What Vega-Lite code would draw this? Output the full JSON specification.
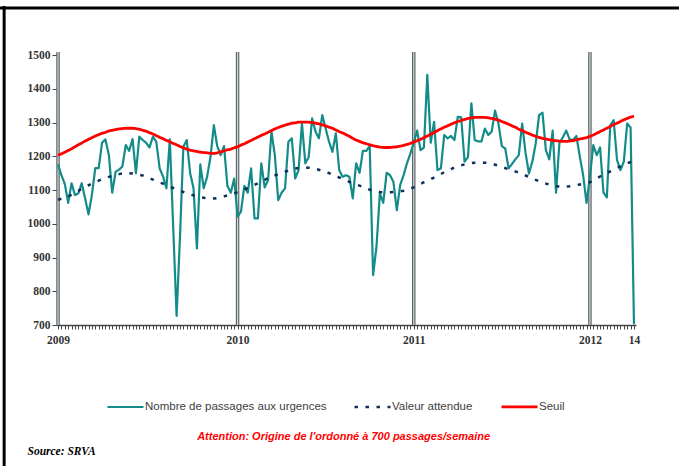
{
  "$schema": "https://vega.github.io/schema/vega-lite/v6.json",
  "width": 579,
  "height": 270,
  "autosize": "none",
  "padding": {"left": 57, "top": 55, "right": 43, "bottom": 141},
  "background": "white",
  "config": {"view": {"stroke": null}},
  "resolve": {"axis": {"x": "independent", "y": "independent"}},
  "data": {
    "values": [
      {"i":0,"n":1176,"e":1071,"s":1203},{"i":1,"n":1144,"e":1074,"s":1207},{"i":2,"n":1118,"e":1077,"s":1212},{"i":3,"n":1062,"e":1081,"s":1217},{"i":4,"n":1120,"e":1086,"s":1222},
      {"i":5,"n":1085,"e":1092,"s":1228},{"i":6,"n":1090,"e":1097,"s":1234},{"i":7,"n":1120,"e":1104,"s":1239},{"i":8,"n":1075,"e":1109,"s":1245},{"i":9,"n":1028,"e":1114,"s":1250},
      {"i":10,"n":1085,"e":1119,"s":1255},{"i":11,"n":1165,"e":1123,"s":1260},{"i":12,"n":1165,"e":1128,"s":1264},{"i":13,"n":1240,"e":1132,"s":1268},{"i":14,"n":1250,"e":1136,"s":1271},
      {"i":15,"n":1204,"e":1139,"s":1275},{"i":16,"n":1092,"e":1142,"s":1277},{"i":17,"n":1154,"e":1145,"s":1279},{"i":18,"n":1160,"e":1147,"s":1281},{"i":19,"n":1170,"e":1149,"s":1282},
      {"i":20,"n":1233,"e":1150,"s":1283},{"i":21,"n":1216,"e":1150,"s":1283},{"i":22,"n":1251,"e":1149,"s":1283},{"i":23,"n":1150,"e":1147,"s":1282},{"i":24,"n":1258,"e":1145,"s":1280},
      {"i":25,"n":1248,"e":1143,"s":1277},{"i":26,"n":1240,"e":1139,"s":1274},{"i":27,"n":1226,"e":1135,"s":1270},{"i":28,"n":1258,"e":1131,"s":1266},{"i":29,"n":1243,"e":1126,"s":1261},
      {"i":30,"n":1164,"e":1122,"s":1256},{"i":31,"n":1140,"e":1119,"s":1252},{"i":32,"n":1105,"e":1115,"s":1247},{"i":33,"n":1250,"e":1110,"s":1243},{"i":34,"n":990,"e":1106,"s":1238},
      {"i":35,"n":727,"e":1102,"s":1234},{"i":36,"n":960,"e":1098,"s":1229},{"i":37,"n":1228,"e":1094,"s":1225},{"i":38,"n":1248,"e":1090,"s":1221},{"i":39,"n":1150,"e":1087,"s":1218},
      {"i":40,"n":1105,"e":1084,"s":1216},{"i":41,"n":927,"e":1081,"s":1214},{"i":42,"n":1176,"e":1078,"s":1212},{"i":43,"n":1105,"e":1077,"s":1211},{"i":44,"n":1139,"e":1075,"s":1210},
      {"i":45,"n":1198,"e":1074,"s":1209},{"i":46,"n":1292,"e":1075,"s":1208},{"i":47,"n":1230,"e":1076,"s":1210},{"i":48,"n":1203,"e":1078,"s":1213},{"i":49,"n":1230,"e":1081,"s":1216},
      {"i":50,"n":1112,"e":1084,"s":1219},{"i":51,"n":1092,"e":1087,"s":1221},{"i":52,"n":1134,"e":1090,"s":1225},{"i":53,"n":1021,"e":1094,"s":1228},{"i":54,"n":1036,"e":1098,"s":1233},
      {"i":55,"n":1112,"e":1102,"s":1237},{"i":56,"n":1092,"e":1106,"s":1242},{"i":57,"n":1164,"e":1111,"s":1247},{"i":58,"n":1016,"e":1115,"s":1252},{"i":59,"n":1016,"e":1120,"s":1257},
      {"i":60,"n":1179,"e":1125,"s":1262},{"i":61,"n":1108,"e":1130,"s":1266},{"i":62,"n":1129,"e":1135,"s":1271},{"i":63,"n":1273,"e":1139,"s":1276},{"i":64,"n":1203,"e":1143,"s":1281},
      {"i":65,"n":1070,"e":1147,"s":1285},{"i":66,"n":1092,"e":1151,"s":1289},{"i":67,"n":1105,"e":1154,"s":1292},{"i":68,"n":1243,"e":1158,"s":1295},{"i":69,"n":1253,"e":1162,"s":1298},
      {"i":70,"n":1134,"e":1164,"s":1299},{"i":71,"n":1159,"e":1165,"s":1301},{"i":72,"n":1297,"e":1166,"s":1301},{"i":73,"n":1179,"e":1166,"s":1301},{"i":74,"n":1198,"e":1166,"s":1301},
      {"i":75,"n":1312,"e":1165,"s":1300},{"i":76,"n":1273,"e":1163,"s":1298},{"i":77,"n":1253,"e":1160,"s":1296},{"i":78,"n":1322,"e":1157,"s":1293},{"i":79,"n":1282,"e":1154,"s":1290},
      {"i":80,"n":1243,"e":1150,"s":1286},{"i":81,"n":1213,"e":1146,"s":1283},{"i":82,"n":1268,"e":1141,"s":1278},{"i":83,"n":1159,"e":1137,"s":1273},{"i":84,"n":1139,"e":1133,"s":1269},
      {"i":85,"n":1144,"e":1129,"s":1264},{"i":86,"n":1139,"e":1124,"s":1259},{"i":87,"n":1075,"e":1120,"s":1253},{"i":88,"n":1179,"e":1116,"s":1248},{"i":89,"n":1151,"e":1113,"s":1244},
      {"i":90,"n":1216,"e":1109,"s":1240},{"i":91,"n":1216,"e":1104,"s":1237},{"i":92,"n":1230,"e":1101,"s":1234},{"i":93,"n":848,"e":1098,"s":1231},{"i":94,"n":932,"e":1096,"s":1229},
      {"i":95,"n":1090,"e":1094,"s":1227},{"i":96,"n":1062,"e":1093,"s":1226},{"i":97,"n":1151,"e":1093,"s":1226},{"i":98,"n":1144,"e":1093,"s":1226},{"i":99,"n":1124,"e":1094,"s":1227},
      {"i":100,"n":1040,"e":1095,"s":1228},{"i":101,"n":1115,"e":1096,"s":1230},{"i":102,"n":1144,"e":1098,"s":1232},{"i":103,"n":1179,"e":1101,"s":1235},{"i":104,"n":1208,"e":1104,"s":1238},
      {"i":105,"n":1240,"e":1108,"s":1242},{"i":106,"n":1276,"e":1113,"s":1246},{"i":107,"n":1218,"e":1118,"s":1250},{"i":108,"n":1226,"e":1123,"s":1255},{"i":109,"n":1441,"e":1127,"s":1260},
      {"i":110,"n":1240,"e":1132,"s":1265},{"i":111,"n":1302,"e":1137,"s":1270},{"i":112,"n":1159,"e":1142,"s":1276},{"i":113,"n":1164,"e":1147,"s":1281},{"i":114,"n":1263,"e":1153,"s":1286},
      {"i":115,"n":1253,"e":1158,"s":1290},{"i":116,"n":1260,"e":1162,"s":1295},{"i":117,"n":1248,"e":1167,"s":1299},{"i":118,"n":1317,"e":1170,"s":1303},{"i":119,"n":1315,"e":1173,"s":1306},
      {"i":120,"n":1184,"e":1176,"s":1309},{"i":121,"n":1198,"e":1178,"s":1312},{"i":122,"n":1357,"e":1180,"s":1314},{"i":123,"n":1248,"e":1181,"s":1315},{"i":124,"n":1244,"e":1181,"s":1315},
      {"i":125,"n":1244,"e":1181,"s":1315},{"i":126,"n":1282,"e":1181,"s":1315},{"i":127,"n":1263,"e":1180,"s":1314},{"i":128,"n":1273,"e":1178,"s":1312},{"i":129,"n":1335,"e":1175,"s":1310},
      {"i":130,"n":1297,"e":1172,"s":1307},{"i":131,"n":1230,"e":1168,"s":1303},{"i":132,"n":1223,"e":1165,"s":1299},{"i":133,"n":1164,"e":1161,"s":1295},{"i":134,"n":1177,"e":1158,"s":1290},
      {"i":135,"n":1191,"e":1155,"s":1286},{"i":136,"n":1203,"e":1151,"s":1280},{"i":137,"n":1297,"e":1147,"s":1276},{"i":138,"n":1210,"e":1143,"s":1271},{"i":139,"n":1149,"e":1139,"s":1267},
      {"i":140,"n":1184,"e":1134,"s":1263},{"i":141,"n":1238,"e":1130,"s":1259},{"i":142,"n":1322,"e":1126,"s":1256},{"i":143,"n":1329,"e":1122,"s":1253},{"i":144,"n":1218,"e":1119,"s":1251},
      {"i":145,"n":1191,"e":1116,"s":1249},{"i":146,"n":1276,"e":1114,"s":1247},{"i":147,"n":1092,"e":1111,"s":1246},{"i":148,"n":1240,"e":1110,"s":1245},{"i":149,"n":1256,"e":1110,"s":1244},
      {"i":150,"n":1276,"e":1110,"s":1244},{"i":151,"n":1250,"e":1111,"s":1245},{"i":152,"n":1248,"e":1113,"s":1246},{"i":153,"n":1260,"e":1114,"s":1249},{"i":154,"n":1200,"e":1116,"s":1251},
      {"i":155,"n":1144,"e":1118,"s":1253},{"i":156,"n":1062,"e":1120,"s":1255},{"i":157,"n":1140,"e":1123,"s":1259},{"i":158,"n":1233,"e":1128,"s":1263},{"i":159,"n":1203,"e":1134,"s":1268},
      {"i":160,"n":1226,"e":1140,"s":1273},{"i":161,"n":1092,"e":1145,"s":1278},{"i":162,"n":1078,"e":1150,"s":1283},{"i":163,"n":1292,"e":1155,"s":1288},{"i":164,"n":1307,"e":1160,"s":1294},
      {"i":165,"n":1189,"e":1165,"s":1298},{"i":166,"n":1159,"e":1170,"s":1303},{"i":167,"n":1184,"e":1175,"s":1308},{"i":168,"n":1297,"e":1179,"s":1312},{"i":169,"n":1285,"e":1183,"s":1316},
      {"i":170,"n":702,"e":1187,"s":1319}
    ]
  },
  "layer": [
    {
      "data": {"values": [{}]},
      "mark": {"type": "rule", "color": "#000000", "strokeWidth": 3},
      "encoding": {
        "x": {"datum": -20, "type": "quantitative", "scale": {"domain": [-0.3, 170.6], "nice": false, "zero": false}, "axis": null},
        "x2": {"datum": 200},
        "y": {"datum": 1639, "type": "quantitative", "scale": {"domain": [700, 1500], "nice": false, "zero": false}, "axis": null}
      }
    },
    {
      "data": {"values": [{}]},
      "mark": {"type": "rule", "color": "#000000", "strokeWidth": 3},
      "encoding": {
        "x": {"datum": -15.9, "type": "quantitative", "scale": {"domain": [-0.3, 170.6], "nice": false, "zero": false}, "axis": null},
        "y": {"datum": 1645, "type": "quantitative", "scale": {"domain": [700, 1500], "nice": false, "zero": false}, "axis": null},
        "y2": {"datum": 250}
      }
    },
    {
      "data": {"values": [{}]},
      "mark": {"type": "text", "text": "Attention: Origine de l'ordonné à 700 passages/semaine", "font": "Liberation Sans", "fontSize": 11, "fontStyle": "italic", "fontWeight": "bold", "color": "#ff0000", "align": "center", "baseline": "middle"},
      "encoding": {
        "x": {"datum": 84.3, "type": "quantitative", "scale": {"domain": [-0.3, 170.6], "nice": false, "zero": false}, "axis": null},
        "y": {"datum": 368, "type": "quantitative", "scale": {"domain": [700, 1500], "nice": false, "zero": false}, "axis": null}
      }
    },
    {
      "data": {"values": [{"w": 0}, {"w": 53}, {"w": 105}, {"w": 157}]},
      "mark": {"type": "rule", "color": "#5a6464", "strokeWidth": 3.5},
      "encoding": {
        "x": {"field": "w", "type": "quantitative", "scale": {"domain": [-0.3, 170.6], "nice": false, "zero": false}, "axis": null},
        "y": {"datum": 700, "type": "quantitative", "scale": {"domain": [700, 1500], "nice": false, "zero": false}, "axis": null},
        "y2": {"datum": 1509}
      }
    },
    {
      "data": {"values": [{"w": 0}, {"w": 53}, {"w": 105}, {"w": 157}]},
      "mark": {"type": "rule", "color": "#cfd6d6", "strokeWidth": 1.2},
      "encoding": {
        "x": {"field": "w", "type": "quantitative", "scale": {"domain": [-0.3, 170.6], "nice": false, "zero": false}, "axis": null},
        "y": {"datum": 700, "type": "quantitative", "scale": {"domain": [700, 1500], "nice": false, "zero": false}, "axis": null},
        "y2": {"datum": 1509}
      }
    },
    {
      "transform": [{"fold": ["n", "e", "s"], "as": ["serie", "v"]}],
      "mark": {"type": "line", "strokeCap": "butt", "strokeJoin": "round"},
      "encoding": {
        "x": {
          "field": "i", "type": "quantitative",
          "scale": {"domain": [-0.3, 170.6], "nice": false, "zero": false},
          "axis": {
            "title": "Source: SRVA", "titleX": -30, "titleY": 129, "titleAlign": "left", "titleBaseline": "alphabetic",
            "titleFont": "Liberation Serif", "titleFontSize": 11.5, "titleFontStyle": "italic", "titleFontWeight": "bold", "titleColor": "#000000",
            "tickCount": 170,
            "labelExpr": "datum.value == 0 ? '2009' : datum.value == 53 ? '2010' : datum.value == 105 ? '2011' : datum.value == 157 ? '2012' : datum.value == 170 ? '14' : ''",
            "labelOverlap": false, "labelFlush": false, "labelBound": false,
            "labelFont": "Liberation Serif", "labelFontWeight": "bold", "labelFontSize": 11.5, "labelColor": "#333333", "labelPadding": 5,
            "tickSize": 4, "tickColor": "#444444", "domainColor": "#444444", "domainWidth": 1.5, "grid": false
          }
        },
        "y": {
          "field": "v", "type": "quantitative",
          "scale": {"domain": [700, 1500], "nice": false, "zero": false},
          "axis": {
            "title": null, "values": [700, 800, 900, 1000, 1100, 1200, 1300, 1400, 1500], "format": "d",
            "labelFont": "Liberation Serif", "labelFontWeight": "bold", "labelFontSize": 11.5, "labelColor": "#333333", "labelPadding": 2,
            "tickSize": 5, "tickColor": "#444444", "domainColor": "#444444", "grid": false
          }
        },
        "color": {
          "field": "serie", "type": "nominal",
          "scale": {"domain": ["n", "e", "s"], "range": ["#138c89", "#0d2f5a", "#ff0000"]},
          "legend": {
            "title": null, "orient": "none", "legendX": 49, "legendY": 332, "direction": "horizontal",
            "symbolType": "stroke", "symbolSize": 1296, "symbolStrokeWidth": 2.8, "labelFont": "Liberation Sans", "labelFontSize": 11.5,
            "labelColor": "#404040", "labelOffset": 0, "columnPadding": 22, "padding": 0, "labelLimit": 0,
            "labelExpr": "datum.label == 'n' ? 'Nombre de passages aux urgences' : datum.label == 'e' ? 'Valeur attendue' : 'Seuil'"
          }
        },
        "strokeDash": {
          "field": "serie", "type": "nominal",
          "scale": {"domain": ["n", "e", "s"], "range": [[1, 0], [3.5, 7.5], [1, 0]]},
          "legend": {
            "title": null, "orient": "none", "legendX": 49, "legendY": 332, "direction": "horizontal",
            "symbolType": "stroke", "symbolSize": 1296, "symbolStrokeWidth": 2.8, "labelFont": "Liberation Sans", "labelFontSize": 11.5,
            "labelColor": "#404040", "labelOffset": 0, "columnPadding": 22, "padding": 0, "labelLimit": 0,
            "labelExpr": "datum.label == 'n' ? 'Nombre de passages aux urgences' : datum.label == 'e' ? 'Valeur attendue' : 'Seuil'"
          }
        },
        "strokeWidth": {
          "field": "serie", "type": "ordinal",
          "scale": {"domain": ["n", "e", "s"], "range": [2.2, 2.8, 3]},
          "legend": null
        }
      }
    }
  ]
}
